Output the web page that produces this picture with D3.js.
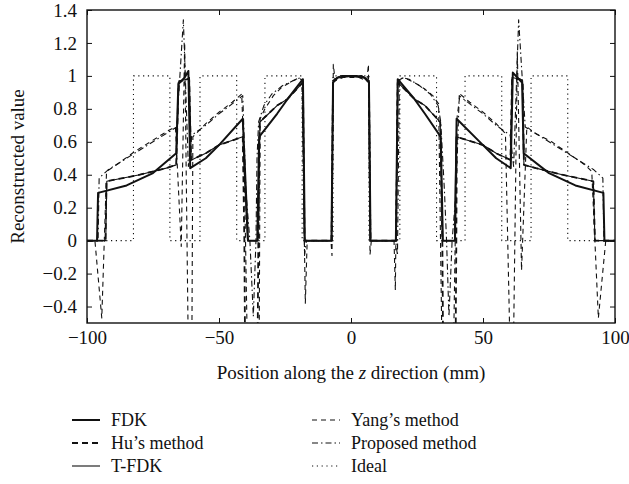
<!DOCTYPE html>
<html>
<head>
<meta charset="utf-8">
<script src="https://cdn.jsdelivr.net/npm/d3@7"></script>
<style>
  body { margin: 0; background: #fff; }
  svg { font-family: "Liberation Serif", "Times New Roman", serif; }
</style>
</head>
<body>
<svg id="chart" width="629" height="484"></svg>
<script>
// values: [z (mm), reconstructed value]
var ideal = [
  [-100, 0], [-82.4, 0], [-82.4, 1], [-68.6, 1], [-68.6, 0], [-57.2, 0], [-57.2, 1], [-43.3, 1],
  [-43.3, 0], [-32.6, 0], [-32.6, 1], [-18.5, 1], [-18.5, 0], [-6.8, 0], [-6.8, 1], [6.8, 1],
  [6.8, 0], [18.5, 0], [18.5, 1], [32.4, 1], [32.4, 0], [43.2, 0], [43.2, 1], [57.1, 1],
  [57.1, 0], [68.2, 0], [68.2, 1], [82.1, 1], [82.1, 0], [100, 0]
];

var proposed = [
  [-100, 0], [-95.8, 0], [-95.4, 0.38], [-92, 0.43], [-88, 0.47], [-82, 0.53], [-75, 0.6], [-69, 0.66],
  [-66, 0.69], [-63.5, 1.34], [-61.6, 0.45], [-60.3, 0.64], [-55, 0.7], [-50, 0.77], [-45, 0.83],
  [-41, 0.88], [-39.8, 0.3], [-38.3, 0], [-37, -0.46], [-36, 0], [-35.6, 0.5], [-35, 0.72], [-33, 0.82],
  [-30, 0.89], [-26, 0.94], [-22, 0.97], [-19, 0.99], [-18.3, 0.96], [-17.6, -0.09], [-16.9, 0],
  [-7.5, 0], [-6.9, 0.97], [-4, 1], [4, 1], [6.9, 0.97], [7.5, 0], [16.9, 0], [17.6, -0.09],
  [18.3, 0.96], [19.5, 0.99], [22, 0.98], [26, 0.94], [30, 0.89], [33, 0.82], [34, 0.72], [35.4, 0.3],
  [36.2, 0], [37.1, -0.46], [38.3, 0], [39.8, 0.3], [41, 0.88], [45, 0.83], [50, 0.77], [55, 0.7],
  [60.3, 0.64], [61.6, 0.45], [63.5, 1.34], [66, 0.69], [69, 0.66], [75, 0.6], [82, 0.53], [88, 0.47],
  [92, 0.43], [95.4, 0.38], [95.8, 0], [100, 0]
];

var yang = [
  [-100, 0], [-97, 0], [-94.4, -0.47], [-92.6, 0.42], [-88, 0.47], [-82, 0.54], [-75, 0.61], [-69, 0.67],
  [-66.5, 0.69], [-64.3, -0.035], [-63, 1.2], [-61.6, -0.7], [-60.3, -0.7], [-59.9, 0.63], [-55, 0.71],
  [-50, 0.78], [-45, 0.84], [-41.4, 0.89], [-40.5, 0.5], [-39.2, -0.7], [-34.8, -0.7], [-34.4, 0.74],
  [-32.6, 0.8], [-29.4, 0.88], [-26.3, 0.93], [-22, 0.97], [-19.5, 0.99], [-18.6, 0.97], [-17.3, -0.38],
  [-16.6, 0], [-7.6, 0], [-7.2, -0.09], [-6.7, 1.07], [-6, 0.97], [-3, 0.99], [3, 0.99], [6, 0.97],
  [6.6, 1.07], [7.2, -0.085], [7.7, 0], [16.3, 0], [16.8, -0.3], [17.6, 0.97], [20, 0.99], [24, 0.96],
  [28, 0.92], [31, 0.88], [33.2, 0.83], [34.5, -0.7], [38.8, -0.7], [40.2, 0.75], [41.3, 0.89],
  [45, 0.84], [50, 0.78], [55, 0.71], [58.5, 0.65], [60.3, -0.7], [61.5, -0.7], [63, 1.15],
  [64.6, -0.18], [66.6, 0.69], [70, 0.65], [76, 0.6], [82.3, 0.53], [88.6, 0.46], [91.2, 0.42],
  [93.7, -0.47], [96.5, 0], [100, 0]
];

var hu = [
  [-100, 0], [-93, 0], [-92.6, 0.36], [-80, 0.4], [-70, 0.44], [-66.2, 0.46], [-65.3, 0.96], [-62, 0.98],
  [-61.3, 0.98], [-60.6, 0.49], [-55, 0.53], [-50, 0.58], [-41, 0.63], [-40.4, 0], [-40.1, -0.7],
  [-35.4, -0.7], [-35.1, 0], [-34.6, 0.72], [-28, 0.82], [-24, 0.86], [-18.2, 0.96], [-17.6, 0],
  [-7.3, 0], [-6.8, 0.97], [-4, 1], [4, 1], [6.8, 0.97], [7.3, 0], [17.1, 0], [17.7, 0.96],
  [24, 0.86], [28, 0.82], [33.8, 0.72], [34.6, 0], [34.9, -0.7], [39.6, -0.7], [39.9, 0], [40.1, 0.63],
  [50, 0.58], [55, 0.53], [60.4, 0.49], [61, 0.98], [64, 0.98], [65, 0.97], [65.5, 0.46], [70, 0.44],
  [80, 0.4], [91.8, 0.36], [92.4, 0], [100, 0]
];

var tfdk = [
  [-100, 0], [-92.9, 0], [-92.5, 0.36], [-80, 0.4], [-70, 0.44], [-66.2, 0.46], [-65.2, 0.97], [-62, 0.98],
  [-61.2, 0.99], [-60.5, 0.49], [-55, 0.53], [-50, 0.58], [-41, 0.63], [-39.8, 0.2], [-39.2, 0],
  [-35.2, 0], [-34.5, 0.72], [-28, 0.82], [-24, 0.86], [-18.2, 0.96], [-17.6, 0], [-7.3, 0],
  [-6.8, 0.97], [-4, 1], [4, 1], [6.8, 0.97], [7.3, 0], [17.1, 0], [17.7, 0.96], [24, 0.86],
  [28, 0.82], [33.8, 0.72], [34.6, 0], [39.2, 0], [39.8, 0.63], [50, 0.58], [55, 0.53], [60.4, 0.49],
  [61, 0.99], [64, 0.98], [65, 0.97], [65.5, 0.46], [70, 0.44], [80, 0.4], [91.8, 0.36], [92.4, 0],
  [100, 0]
];

var fdk = [
  [-100, 0], [-96.2, 0], [-95.8, 0.29], [-85, 0.335], [-75, 0.41], [-66.2, 0.53], [-65.4, 0.95],
  [-63, 0.99], [-61.6, 1.03], [-60.9, 0.44], [-55, 0.5], [-50, 0.58], [-41, 0.74], [-39.8, 0.3],
  [-39, 0], [-35.5, 0], [-34.8, 0.63], [-28, 0.77], [-24, 0.86], [-18.2, 0.98], [-17.5, 0], [-7.4, 0],
  [-6.8, 0.96], [-5, 0.99], [0, 1], [5, 0.99], [6.8, 0.96], [7.4, 0], [17, 0], [17.7, 0.98],
  [24, 0.86], [28, 0.77], [34, 0.63], [34.8, 0], [39.4, 0], [40, 0.74], [50, 0.58], [55, 0.5],
  [60.5, 0.44], [61.3, 1.02], [63, 0.99], [64.8, 0.96], [65.4, 0.53], [75, 0.41], [85, 0.335],
  [95.6, 0.29], [96, 0], [100, 0]
];

var xTicks = [-100, -50, 0, 50, 100];
var yTicks = [-0.4, -0.2, 0, 0.2, 0.4, 0.6, 0.8, 1, 1.2, 1.4];
var legendNames = ['FDK', "Hu\u2019s method", 'T-FDK', "Yang\u2019s method", 'Proposed method', 'Ideal'];

var ink = '#111';
var styles = {
  'FDK': { data: fdk, width: 2, dash: null },
  "Hu\u2019s method": { data: hu, width: 1.8, dash: '6,4' },
  'T-FDK': { data: tfdk, width: 1.1, dash: null },
  "Yang\u2019s method": { data: yang, width: 1.1, dash: '5,4' },
  'Proposed method': { data: proposed, width: 1.1, dash: '6,3,1.5,3' },
  'Ideal': { data: ideal, width: 1.1, dash: '1.2,3.6' }
};

var svg = d3.select('#chart');
var plotL = 87, plotR = 615, plotT = 10, plotB = 323;

var x = d3.scaleLinear().domain([-100, 100]).range([plotL, plotR]);
var y = d3.scaleLinear().domain([-0.5, 1.4]).range([plotB, plotT]);

svg.append('clipPath').attr('id', 'plotClip')
  .append('rect')
  .attr('x', plotL).attr('y', plotT)
  .attr('width', plotR - plotL).attr('height', plotB - plotT);

var line = d3.line()
  .x(function (d) { return x(d[0]); })
  .y(function (d) { return y(d[1]); });

var plot = svg.append('g').attr('clip-path', 'url(#plotClip)');

// back to front
['Ideal', 'Proposed method', "Yang\u2019s method", 'T-FDK', "Hu\u2019s method", 'FDK'].forEach(function (name) {
  var s = styles[name];
  plot.append('path')
    .datum(s.data)
    .attr('d', line)
    .attr('fill', 'none')
    .attr('stroke', ink)
    .attr('stroke-width', s.width)
    .attr('stroke-dasharray', s.dash)
    .attr('stroke-linejoin', 'round');
});

// axes with inward ticks
var fmt = function (d) { return d3.format('~g')(d); };

var gx = svg.append('g')
  .attr('transform', 'translate(0,' + plotB + ')')
  .call(d3.axisBottom(x).tickValues(xTicks).tickSize(-5).tickPadding(8).tickFormat(fmt));
var gy = svg.append('g')
  .attr('transform', 'translate(' + plotL + ',0)')
  .call(d3.axisLeft(y).tickValues(yTicks).tickSize(-5).tickPadding(10).tickFormat(fmt));
var gt = svg.append('g')
  .attr('transform', 'translate(0,' + plotT + ')')
  .call(d3.axisTop(x).tickValues(xTicks).tickSize(-5).tickFormat(''));
var gr = svg.append('g')
  .attr('transform', 'translate(' + plotR + ',0)')
  .call(d3.axisRight(y).tickValues(yTicks).tickSize(-5).tickFormat(''));

[gx, gy, gt, gr].forEach(function (g) {
  g.select('.domain').remove();
  g.selectAll('line').attr('stroke', ink).attr('stroke-width', 1);
  g.selectAll('text')
    .attr('fill', ink)
    .style('font-family', '"Liberation Serif", "Times New Roman", serif')
    .style('font-size', '19px');
});

svg.append('rect')
  .attr('x', plotL).attr('y', plotT)
  .attr('width', plotR - plotL).attr('height', plotB - plotT)
  .attr('fill', 'none')
  .attr('stroke', ink)
  .attr('stroke-width', 1.4);

// axis titles
svg.append('text')
  .attr('transform', 'translate(24,' + ((plotT + plotB) / 2) + ') rotate(-90)')
  .attr('text-anchor', 'middle')
  .attr('fill', ink)
  .style('font-size', '19px')
  .text('Reconstructed value');

var xt = svg.append('text')
  .attr('x', (plotL + plotR) / 2)
  .attr('y', 379)
  .attr('text-anchor', 'middle')
  .attr('fill', ink)
  .style('font-size', '19px');
xt.append('tspan').text('Position along the ');
xt.append('tspan').style('font-style', 'italic').text('z');
xt.append('tspan').text(' direction (mm)');

// legend
var legend = svg.append('g');
legendNames.forEach(function (name, i) {
  var s = styles[name];
  var col = Math.floor(i / 3), row = i % 3;
  var lx = col === 0 ? 72 : 312;
  var by = 426 + row * 23;
  legend.append('line')
    .attr('x1', lx).attr('x2', lx + 28)
    .attr('y1', by - 6).attr('y2', by - 6)
    .attr('stroke', ink)
    .attr('stroke-width', s.width)
    .attr('stroke-dasharray', s.dash);
  legend.append('text')
    .attr('x', lx + 39)
    .attr('y', by)
    .attr('fill', ink)
    .style('font-size', '18px')
    .text(name);
});
</script>
</body>
</html>
